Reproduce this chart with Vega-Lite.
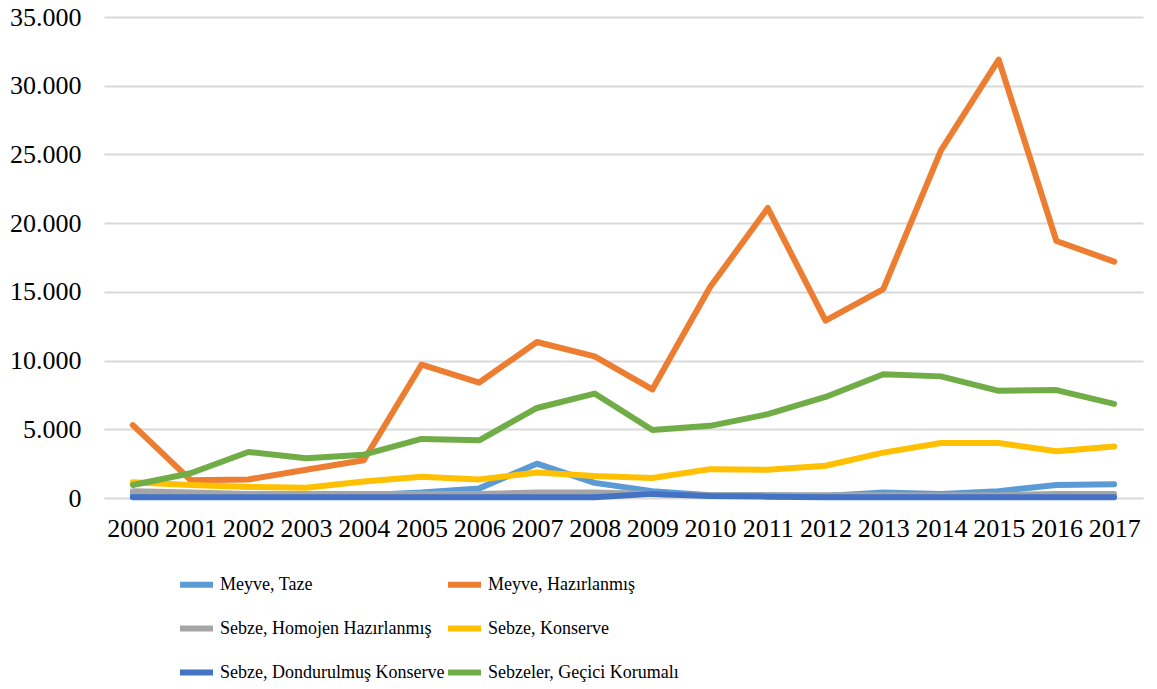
{
  "$schema": "https://vega.github.io/schema/vega-lite/v6.json",
  "width": 1039,
  "height": 481,
  "autosize": {"type": "none"},
  "padding": {"left": 104, "top": 17, "right": 14, "bottom": 191},
  "background": "white",
  "config": {
    "view": {"stroke": null},
    "font": "Liberation Serif"
  },
  "data": {
    "values": [
      {"year": "2000", "series": "Meyve, Taze", "value": 300},
      {"year": "2001", "series": "Meyve, Taze", "value": 200},
      {"year": "2002", "series": "Meyve, Taze", "value": 150},
      {"year": "2003", "series": "Meyve, Taze", "value": 150},
      {"year": "2004", "series": "Meyve, Taze", "value": 200},
      {"year": "2005", "series": "Meyve, Taze", "value": 400},
      {"year": "2006", "series": "Meyve, Taze", "value": 700},
      {"year": "2007", "series": "Meyve, Taze", "value": 2500},
      {"year": "2008", "series": "Meyve, Taze", "value": 1100},
      {"year": "2009", "series": "Meyve, Taze", "value": 500},
      {"year": "2010", "series": "Meyve, Taze", "value": 200},
      {"year": "2011", "series": "Meyve, Taze", "value": 200},
      {"year": "2012", "series": "Meyve, Taze", "value": 150},
      {"year": "2013", "series": "Meyve, Taze", "value": 400},
      {"year": "2014", "series": "Meyve, Taze", "value": 300},
      {"year": "2015", "series": "Meyve, Taze", "value": 500},
      {"year": "2016", "series": "Meyve, Taze", "value": 950},
      {"year": "2017", "series": "Meyve, Taze", "value": 1000},
      {"year": "2000", "series": "Meyve, Hazırlanmış", "value": 5300},
      {"year": "2001", "series": "Meyve, Hazırlanmış", "value": 1300},
      {"year": "2002", "series": "Meyve, Hazırlanmış", "value": 1350},
      {"year": "2003", "series": "Meyve, Hazırlanmış", "value": 2050},
      {"year": "2004", "series": "Meyve, Hazırlanmış", "value": 2750},
      {"year": "2005", "series": "Meyve, Hazırlanmış", "value": 9700},
      {"year": "2006", "series": "Meyve, Hazırlanmış", "value": 8400},
      {"year": "2007", "series": "Meyve, Hazırlanmış", "value": 11350},
      {"year": "2008", "series": "Meyve, Hazırlanmış", "value": 10300},
      {"year": "2009", "series": "Meyve, Hazırlanmış", "value": 7900},
      {"year": "2010", "series": "Meyve, Hazırlanmış", "value": 15350},
      {"year": "2011", "series": "Meyve, Hazırlanmış", "value": 21100},
      {"year": "2012", "series": "Meyve, Hazırlanmış", "value": 12900},
      {"year": "2013", "series": "Meyve, Hazırlanmış", "value": 15200},
      {"year": "2014", "series": "Meyve, Hazırlanmış", "value": 25300},
      {"year": "2015", "series": "Meyve, Hazırlanmış", "value": 31900},
      {"year": "2016", "series": "Meyve, Hazırlanmış", "value": 18700},
      {"year": "2017", "series": "Meyve, Hazırlanmış", "value": 17200},
      {"year": "2000", "series": "Sebze, Homojen Hazırlanmış", "value": 500},
      {"year": "2001", "series": "Sebze, Homojen Hazırlanmış", "value": 400},
      {"year": "2002", "series": "Sebze, Homojen Hazırlanmış", "value": 300},
      {"year": "2003", "series": "Sebze, Homojen Hazırlanmış", "value": 300},
      {"year": "2004", "series": "Sebze, Homojen Hazırlanmış", "value": 300},
      {"year": "2005", "series": "Sebze, Homojen Hazırlanmış", "value": 300},
      {"year": "2006", "series": "Sebze, Homojen Hazırlanmış", "value": 300},
      {"year": "2007", "series": "Sebze, Homojen Hazırlanmış", "value": 400},
      {"year": "2008", "series": "Sebze, Homojen Hazırlanmış", "value": 400},
      {"year": "2009", "series": "Sebze, Homojen Hazırlanmış", "value": 300},
      {"year": "2010", "series": "Sebze, Homojen Hazırlanmış", "value": 200},
      {"year": "2011", "series": "Sebze, Homojen Hazırlanmış", "value": 200},
      {"year": "2012", "series": "Sebze, Homojen Hazırlanmış", "value": 200},
      {"year": "2013", "series": "Sebze, Homojen Hazırlanmış", "value": 200},
      {"year": "2014", "series": "Sebze, Homojen Hazırlanmış", "value": 200},
      {"year": "2015", "series": "Sebze, Homojen Hazırlanmış", "value": 200},
      {"year": "2016", "series": "Sebze, Homojen Hazırlanmış", "value": 300},
      {"year": "2017", "series": "Sebze, Homojen Hazırlanmış", "value": 300},
      {"year": "2000", "series": "Sebze, Konserve", "value": 1150},
      {"year": "2001", "series": "Sebze, Konserve", "value": 950},
      {"year": "2002", "series": "Sebze, Konserve", "value": 800},
      {"year": "2003", "series": "Sebze, Konserve", "value": 750},
      {"year": "2004", "series": "Sebze, Konserve", "value": 1200},
      {"year": "2005", "series": "Sebze, Konserve", "value": 1550},
      {"year": "2006", "series": "Sebze, Konserve", "value": 1350},
      {"year": "2007", "series": "Sebze, Konserve", "value": 1850},
      {"year": "2008", "series": "Sebze, Konserve", "value": 1600},
      {"year": "2009", "series": "Sebze, Konserve", "value": 1450},
      {"year": "2010", "series": "Sebze, Konserve", "value": 2100},
      {"year": "2011", "series": "Sebze, Konserve", "value": 2050},
      {"year": "2012", "series": "Sebze, Konserve", "value": 2350},
      {"year": "2013", "series": "Sebze, Konserve", "value": 3300},
      {"year": "2014", "series": "Sebze, Konserve", "value": 4000},
      {"year": "2015", "series": "Sebze, Konserve", "value": 4000},
      {"year": "2016", "series": "Sebze, Konserve", "value": 3400},
      {"year": "2017", "series": "Sebze, Konserve", "value": 3750},
      {"year": "2000", "series": "Sebze, Dondurulmuş Konserve", "value": 50},
      {"year": "2001", "series": "Sebze, Dondurulmuş Konserve", "value": 50},
      {"year": "2002", "series": "Sebze, Dondurulmuş Konserve", "value": 50},
      {"year": "2003", "series": "Sebze, Dondurulmuş Konserve", "value": 50},
      {"year": "2004", "series": "Sebze, Dondurulmuş Konserve", "value": 50},
      {"year": "2005", "series": "Sebze, Dondurulmuş Konserve", "value": 50},
      {"year": "2006", "series": "Sebze, Dondurulmuş Konserve", "value": 50},
      {"year": "2007", "series": "Sebze, Dondurulmuş Konserve", "value": 50},
      {"year": "2008", "series": "Sebze, Dondurulmuş Konserve", "value": 50},
      {"year": "2009", "series": "Sebze, Dondurulmuş Konserve", "value": 300},
      {"year": "2010", "series": "Sebze, Dondurulmuş Konserve", "value": 150},
      {"year": "2011", "series": "Sebze, Dondurulmuş Konserve", "value": 100},
      {"year": "2012", "series": "Sebze, Dondurulmuş Konserve", "value": 50},
      {"year": "2013", "series": "Sebze, Dondurulmuş Konserve", "value": 50},
      {"year": "2014", "series": "Sebze, Dondurulmuş Konserve", "value": 50},
      {"year": "2015", "series": "Sebze, Dondurulmuş Konserve", "value": 50},
      {"year": "2016", "series": "Sebze, Dondurulmuş Konserve", "value": 50},
      {"year": "2017", "series": "Sebze, Dondurulmuş Konserve", "value": 50},
      {"year": "2000", "series": "Sebzeler, Geçici Korumalı", "value": 950},
      {"year": "2001", "series": "Sebzeler, Geçici Korumalı", "value": 1800},
      {"year": "2002", "series": "Sebzeler, Geçici Korumalı", "value": 3350},
      {"year": "2003", "series": "Sebzeler, Geçici Korumalı", "value": 2900},
      {"year": "2004", "series": "Sebzeler, Geçici Korumalı", "value": 3150},
      {"year": "2005", "series": "Sebzeler, Geçici Korumalı", "value": 4300},
      {"year": "2006", "series": "Sebzeler, Geçici Korumalı", "value": 4200},
      {"year": "2007", "series": "Sebzeler, Geçici Korumalı", "value": 6550},
      {"year": "2008", "series": "Sebzeler, Geçici Korumalı", "value": 7600},
      {"year": "2009", "series": "Sebzeler, Geçici Korumalı", "value": 4950},
      {"year": "2010", "series": "Sebzeler, Geçici Korumalı", "value": 5250},
      {"year": "2011", "series": "Sebzeler, Geçici Korumalı", "value": 6100},
      {"year": "2012", "series": "Sebzeler, Geçici Korumalı", "value": 7350},
      {"year": "2013", "series": "Sebzeler, Geçici Korumalı", "value": 9000},
      {"year": "2014", "series": "Sebzeler, Geçici Korumalı", "value": 8850},
      {"year": "2015", "series": "Sebzeler, Geçici Korumalı", "value": 7800},
      {"year": "2016", "series": "Sebzeler, Geçici Korumalı", "value": 7850},
      {"year": "2017", "series": "Sebzeler, Geçici Korumalı", "value": 6850}
    ]
  },
  "mark": {"type": "line", "strokeWidth": 6, "strokeCap": "round", "strokeJoin": "round"},
  "encoding": {
    "x": {
      "field": "year",
      "type": "ordinal",
      "scale": {"type": "point", "padding": 0.5},
      "axis": {
        "title": null,
        "labelAngle": 0,
        "labelFont": "Liberation Serif",
        "labelFontSize": 26,
        "labelColor": "black",
        "labelPadding": 17,
        "domain": false,
        "ticks": false,
        "grid": false
      }
    },
    "y": {
      "field": "value",
      "type": "quantitative",
      "scale": {"domain": [0, 35000], "nice": false},
      "axis": {
        "title": null,
        "values": [0, 5000, 10000, 15000, 20000, 25000, 30000, 35000],
        "labelExpr": "replace(format(datum.value, ',d'), ',', '.')",
        "labelFont": "Liberation Serif",
        "labelFontSize": 26,
        "labelColor": "black",
        "labelPadding": 23,
        "domain": false,
        "ticks": false,
        "grid": true,
        "gridColor": "#D9D9D9",
        "gridWidth": 2
      }
    },
    "color": {
      "field": "series",
      "type": "nominal",
      "sort": ["Meyve, Taze", "Meyve, Hazırlanmış", "Sebze, Homojen Hazırlanmış", "Sebze, Konserve", "Sebze, Dondurulmuş Konserve", "Sebzeler, Geçici Korumalı"],
      "scale": {
        "domain": ["Meyve, Taze", "Meyve, Hazırlanmış", "Sebze, Homojen Hazırlanmış", "Sebze, Konserve", "Sebze, Dondurulmuş Konserve", "Sebzeler, Geçici Korumalı"],
        "range": ["#5B9BD5", "#ED7D31", "#A5A5A5", "#FFC000", "#4472C4", "#70AD47"]
      },
      "legend": {
        "title": null,
        "orient": "none",
        "legendX": 73,
        "legendY": 548,
        "direction": "horizontal",
        "columns": 2,
        "columnPadding": -14,
        "rowPadding": 12,
        "symbolType": "stroke",
        "symbolSize": 1089,
        "symbolStrokeWidth": 6,
        "labelFont": "Liberation Serif",
        "labelFontSize": 18,
        "labelColor": "black",
        "labelOffset": 4,
        "labelLimit": 400
      }
    }
  }
}
